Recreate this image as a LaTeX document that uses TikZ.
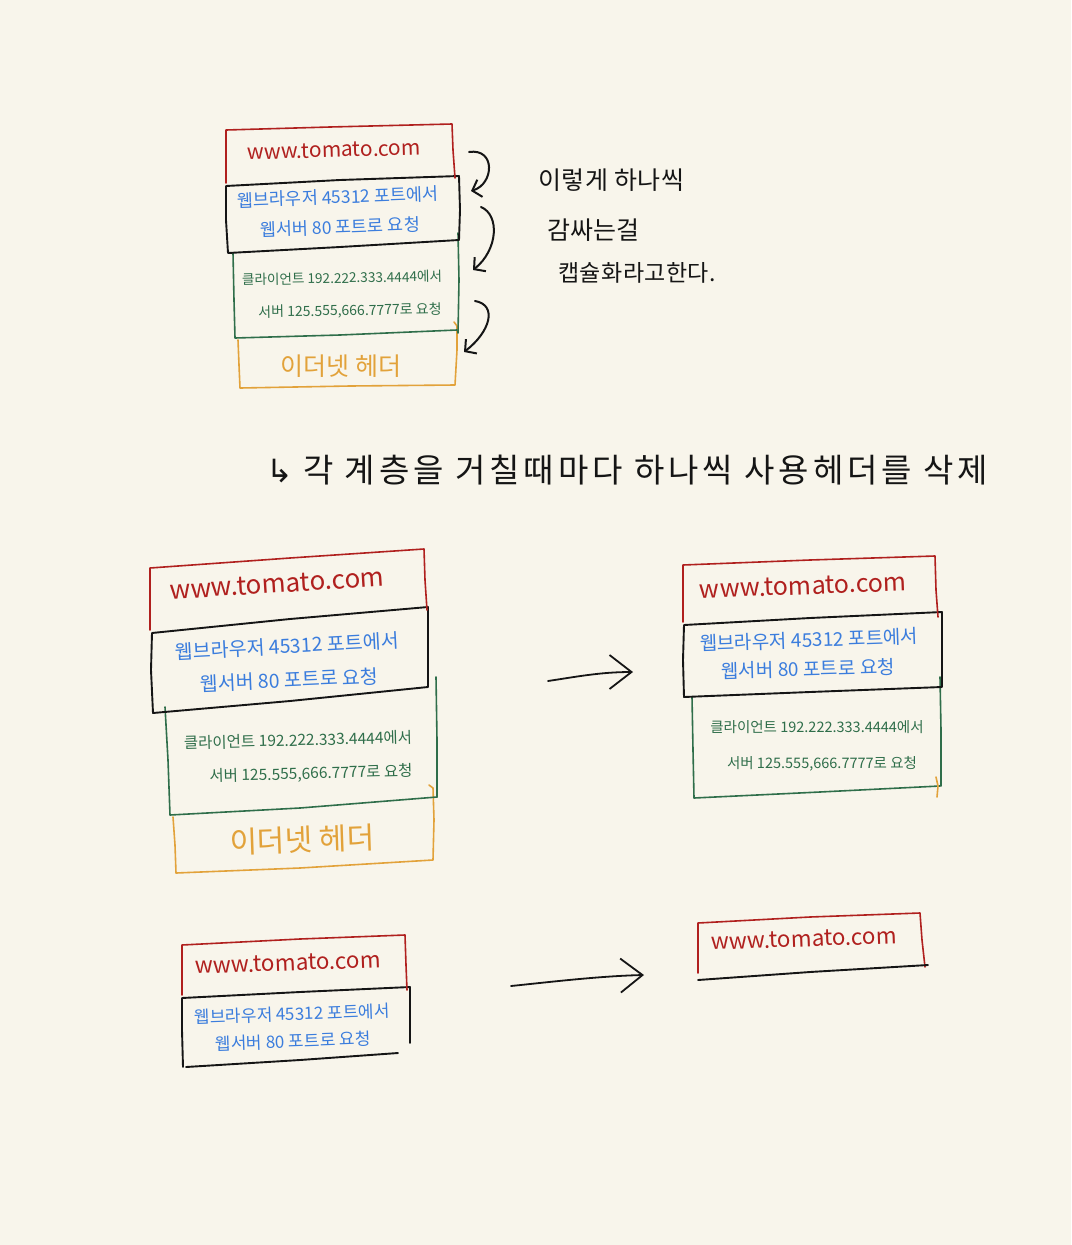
\documentclass[tikz,border=0pt]{standalone}
\usepackage{fontspec}
\setmainfont{Noto Sans CJK KR}
\newfontfamily\symfont{DejaVu Sans}
\usetikzlibrary{arrows.meta}
\definecolor{bg}{HTML}{F8F5EB}
\definecolor{tred}{HTML}{B0201E}
\definecolor{tblue}{HTML}{3B7DDD}
\definecolor{tgreen}{HTML}{2F6E4A}
\definecolor{torange}{HTML}{E2A23A}
\definecolor{tink}{HTML}{151515}
\newcommand\myfs[1]{\fontsize{#1}{#1}\selectfont}
\begin{document}
\begin{tikzpicture}[x=1pt,y=-1pt,
  pen/.style={line width=1.6pt, line join=round, line cap=round},
  redbox/.style={pen, draw=tred},
  blackbox/.style={pen, draw=tink, line width=1.9pt},
  greenbox/.style={pen, draw=tgreen},
  orangebox/.style={pen, draw=torange},
  lbl/.style={inner sep=0pt, anchor=center},
  redtxt/.style={lbl, text=tred},
  bluetxt/.style={lbl, text=tblue},
  greentxt/.style={lbl, text=tgreen},
  orangetxt/.style={lbl, text=torange},
  inktxt/.style={inner sep=0pt, anchor=west, text=tink},
  curvearrow/.style={pen, draw=tink, line width=2pt, -{Straight Barb[length=8pt,width=18pt]}},
  longarrow/.style={pen, draw=tink, line width=1.8pt, -{Straight Barb[length=22pt,width=34pt]}},
]
\fill[bg] (0,0) rectangle (1071,1245);
\useasboundingbox (0,0) rectangle (1071,1245);

% ================= Diagram 1 =================
\draw[orangebox] (238,340) -- (239,365) -- (240,388) -- (350,386) -- (455,385) -- (457,350) -- (457,326) -- (454,322);
\draw[greenbox] (233,253) -- (234,300) -- (235,338) -- (340,335) -- (457,330);
\draw[greenbox] (458,233) -- (459,280) -- (458,333);
\draw[blackbox] (226,186) -- (340,180) -- (459,176) -- (460,210) -- (459,240) -- (340,247) -- (228,253) -- (226,220) -- cycle;
\draw[redbox] (226,183) -- (226,130) -- (330,127) -- (452,124) -- (453,150) -- (455,178);

\node[redtxt, rotate=1.5] (d1red) at (334,150) {\myfs{21}www.tomato.com};
\node[bluetxt, rotate=2] (d1blue1) at (338,197) {\myfs{17.5}웹브라우저 45312 포트에서};
\node[bluetxt, rotate=2] (d1blue2) at (340,227) {\myfs{17.5}웹서버 80 포트로 요청};
\node[greentxt, rotate=1] (d1green1) at (342,278) {\myfs{13.6}클라이언트 192.222.333.4444에서};
\node[greentxt, rotate=1] (d1green2) at (350,311) {\myfs{14}서버 125.555,666.7777로 요청};
\node[orangetxt] (d1orange) at (341,366) {\myfs{25}이더넷 헤더};

\coordinate (c1s) at (469,152);
\coordinate (c1e) at (471,191);
\coordinate (c2s) at (481,207);
\coordinate (c2e) at (473,270);
\coordinate (c3s) at (475,301);
\coordinate (c3e) at (464,352);
\draw[curvearrow] (c1s) .. controls (496,148) and (494,184) .. (c1e);
\draw[curvearrow] (c2s) .. controls (500,215) and (498,250) .. (c2e);
\draw[curvearrow] (c3s) .. controls (498,305) and (490,332) .. (c3e);

\node[inktxt] (note1) at (538,180) {\myfs{25}\addfontfeature{LetterSpace=2}이렇게 하나씩};
\node[inktxt] (note2) at (547,230) {\myfs{25}감싸는걸};
\node[inktxt] (note3) at (558,273) {\myfs{23}\addfontfeature{LetterSpace=2}캡슐화라고한다.};

\node[inktxt] (midnote) at (266,470) {{\symfont\myfs{32}↳}\hspace{10pt}\myfs{33}\addfontfeature{LetterSpace=12}각 계층을 거칠때마다 하나씩 사용헤더를 삭제};

% ================= Diagram 2 left =================
\draw[orangebox] (173,817) -- (175,845) -- (176,873) -- (300,868) -- (433,860) -- (434,820) -- (433,788) -- (429,785);
\draw[greenbox] (165,707) -- (168,760) -- (170,815) -- (300,808) -- (437,797);
\draw[greenbox] (436,677) -- (437,740) -- (437,797);
\draw[blackbox] (152,633) -- (290,619) -- (428,607) -- (428,650) -- (428,687) -- (290,701) -- (153,713) -- (151,670) -- cycle;
\draw[redbox] (150,630) -- (150,568) -- (290,558) -- (424,549) -- (425,580) -- (427,610);

\node[redtxt, rotate=3.5] (d2red) at (277,584) {\myfs{26}www.tomato.com};
\node[bluetxt, rotate=3] (d2blue1) at (287,646) {\myfs{19.5}웹브라우저 45312 포트에서};
\node[bluetxt, rotate=2.5] (d2blue2) at (289,680) {\myfs{19.5}웹서버 80 포트로 요청};
\node[greentxt, rotate=1.5] (d2green1) at (298,740) {\myfs{15.5}클라이언트 192.222.333.4444에서};
\node[greentxt, rotate=1.5] (d2green2) at (311,774) {\myfs{15.5}서버 125.555,666.7777로 요청};
\node[orangetxt, rotate=2] (d2orange) at (302,840) {\myfs{30}이더넷 헤더};

% arrow 1
\coordinate (a1s) at (548,681);
\coordinate (a1e) at (633,672);
\draw[longarrow] (a1s) .. controls (575,677) and (600,672) .. (a1e);

% ================= Diagram 2 right =================
\draw[greenbox] (692,697) -- (693,750) -- (694,798) -- (820,792) -- (940,786);
\draw[greenbox] (940,677) -- (941,730) -- (941,786);
\draw[orangebox] (936,777) -- (938,786) -- (937,797);
\draw[blackbox] (684,625) -- (810,618) -- (942,612) -- (942,650) -- (942,687) -- (810,692) -- (684,697) -- (683,660) -- cycle;
\draw[redbox] (683,622) -- (683,565) -- (810,560) -- (935,556) -- (936,590) -- (938,617);

\node[redtxt, rotate=2] (d2rred) at (803,586) {\myfs{25}www.tomato.com};
\node[bluetxt, rotate=2] (d2rblue1) at (809,640) {\myfs{19}웹브라우저 45312 포트에서};
\node[bluetxt, rotate=1.5] (d2rblue2) at (808,669) {\myfs{19}웹서버 80 포트로 요청};
\node[greentxt] (d2rgreen1) at (817,727) {\myfs{14.5}클라이언트 192.222.333.4444에서};
\node[greentxt] (d2rgreen2) at (822,764) {\myfs{14.5}서버 125.555,666.7777로 요청};

% ================= Diagram 3 left =================
\draw[blackbox] (183,1067) -- (182,1030) -- (182,998) -- (300,992) -- (410,987) -- (410,1015) -- (410,1043);
\draw[blackbox] (186,1067) -- (300,1060) -- (398,1053);
\draw[redbox] (182,995) -- (182,945) -- (300,939) -- (405,935) -- (406,965) -- (407,990);

\node[redtxt, rotate=2] (d3red) at (288,963) {\myfs{22.5}www.tomato.com};
\node[bluetxt, rotate=2] (d3blue1) at (292,1014) {\myfs{17}웹브라우저 45312 포트에서};
\node[bluetxt, rotate=2] (d3blue2) at (293,1041) {\myfs{17}웹서버 80 포트로 요청};

% arrow 2
\coordinate (a2s) at (511,986);
\coordinate (a2e) at (644,975);
\draw[longarrow] (a2s) .. controls (550,982) and (600,976) .. (a2e);

% ================= Diagram 3 right =================
\draw[redbox] (698,973) -- (698,923) -- (810,917) -- (920,913) -- (922,940) -- (925,967);
\draw[blackbox] (698,980) -- (810,972) -- (928,965);
\node[redtxt, rotate=2] (d3rred) at (804,939) {\myfs{22.5}www.tomato.com};
\end{tikzpicture}
\end{document}
